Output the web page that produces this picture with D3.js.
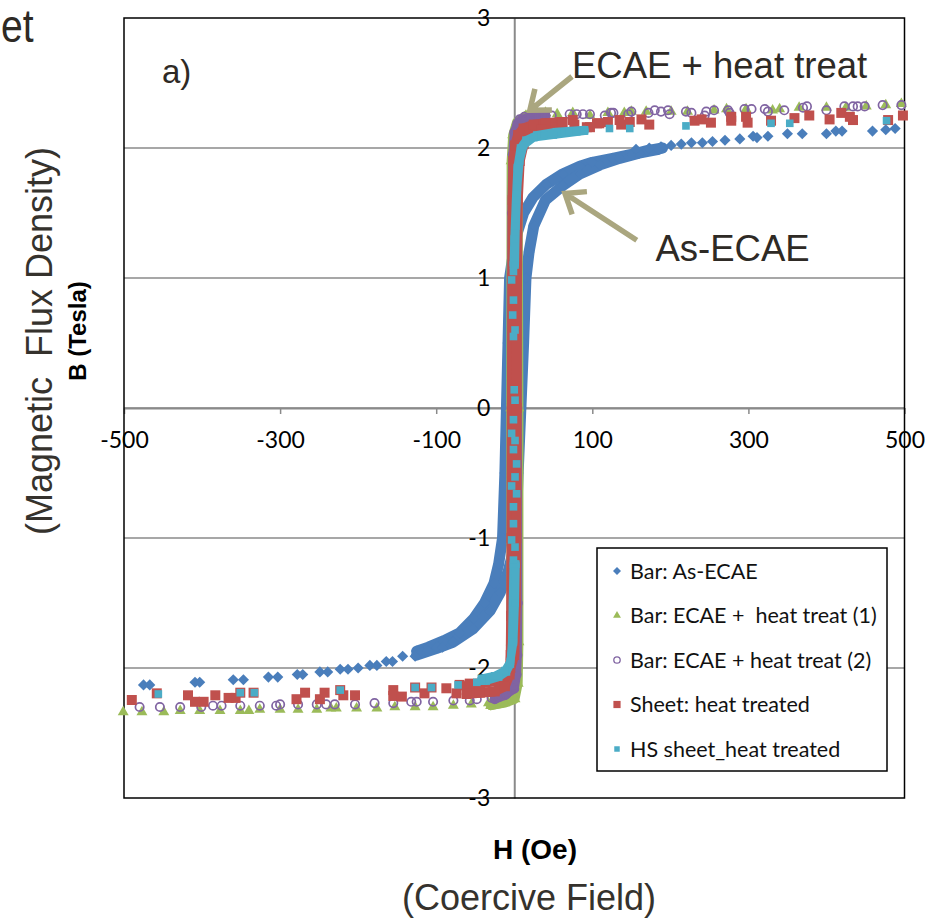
<!DOCTYPE html>
<html>
<head>
<meta charset="utf-8">
<script src="https://cdn.jsdelivr.net/npm/d3@7"></script>
<style>
  body { margin: 0; background: #fff; }
  svg { display: block; }
</style>
</head>
<body>
<div id="chart"></div>
<script>
/* Values: [H (Oe), B (Tesla)] */

// Bar: As-ECAE (blue diamonds)
const asEcaeDesc = [[190,2.0],[170,1.98],[150,1.95],[126,1.92],[100,1.89],[84,1.86],[62,1.8],[41,1.72],[24,1.62],[12,1.5],[4,1.35],[-1,1.2],[-6,1.0],[-8,0.5],[-10,0],[-12,-0.5],[-15,-1.0],[-20,-1.2],[-26,-1.35],[-38,-1.5],[-52,-1.62],[-70,-1.73],[-90,-1.79],[-110,-1.84],[-125,-1.87]];
const asEcaeAsc = [[-125,-1.9],[-100,-1.85],[-78,-1.8],[-53,-1.7],[-31,-1.56],[-18,-1.42],[-8,-1.26],[-2,-1.12],[2,-1.0],[5,-0.5],[8.5,0],[12,0.5],[15,1.0],[19,1.2],[25,1.4],[40,1.6],[62,1.71],[84,1.8],[110,1.87],[135,1.92],[160,1.96],[185,1.99]];
const asEcaePts = [[156,1.99],[173,2.0],[188,2.01],[201,2.02],[214,2.03],[227,2.04],[241,2.04],[254,2.05],[270,2.06],[289,2.07],[306,2.09],[311,2.08],[325,2.09],[350,2.11],[369,2.11],[400,2.11],[412,2.13],[420,2.13],[459,2.13],[476,2.14],[488,2.15],
  [-475,-2.13],[-467,-2.13],[-409,-2.11],[-403,-2.11],[-360,-2.09],[-347,-2.09],[-315,-2.07],[-303,-2.07],[-278,-2.05],[-271,-2.05],[-249,-2.03],[-239,-2.03],[-223,-2.01],[-213,-2.01],[-200,-2.0],[-185,-1.98],[-176,-1.98],[-164,-1.95],[-156,-1.95],[-143,-1.91],[-127,-1.91],[-118,-1.88],[-111,-1.87],[-99,-1.84],[-92,-1.84],[-78,-1.8]];

// Bar: ECAE + heat treat (1) (green triangles)
const ecae1Desc = [[40,2.27],[15,2.25],[3,2.2],[-2,2.1],[-4,1.9],[-4.5,0],[-4,-1.8],[-2,-2.1],[-6,-2.24],[-15,-2.27],[-30,-2.29]];
const ecae1Asc = [[-30,-2.29],[-12,-2.27],[1,-2.24],[5,-2.12],[6,-1.8],[6,0],[5,1.6],[4,2.0],[8,2.18],[20,2.25],[40,2.27]];
const ecae1Pts = [[30,2.25],[55,2.26],[75,2.27],[97,2.25],[120,2.27],[141,2.27],[150,2.28],[169,2.28],[201,2.28],[222,2.28],[256,2.29],[272,2.3],[297,2.3],[331,2.29],[340,2.3],[365,2.31],[400,2.31],[425,2.31],[451,2.32],[476,2.33],[496,2.34],
  [-501,-2.34],[-477,-2.34],[-449,-2.34],[-428,-2.33],[-403,-2.33],[-377,-2.33],[-351,-2.33],[-340,-2.33],[-326,-2.32],[-300,-2.32],[-277,-2.32],[-253,-2.32],[-235,-2.31],[-228,-2.31],[-202,-2.31],[-176,-2.31],[-153,-2.3],[-127,-2.3],[-104,-2.3],[-78,-2.29],[-55,-2.28],[-33,-2.27],[-14,-2.26]];

// Bar: ECAE + heat treat (2) (purple open circles)
const ecae2Desc = [[40,2.25],[20,2.24],[10,2.22],[4,2.19],[0,2.12],[-2,1.95],[-3,1.5],[-3.5,0],[-3,-1.5],[-2,-1.95],[-5,-2.15],[-12,-2.21],[-25,-2.24]];
const ecae2Asc = [[-25,-2.22],[-10,-2.2],[0,-2.16],[3,-2.05],[4,-1.9],[4.5,-1.5],[4,0],[3.5,1.5],[4,1.95],[8,2.12],[18,2.2],[40,2.24]];
const ecae2Pts = [[7,2.22],[13,2.24],[22,2.24],[37,2.25],[48,2.25],[71,2.26],[80,2.26],[88,2.26],[97,2.26],[116,2.25],[124,2.27],[127,2.27],[146,2.26],[150,2.28],[172,2.27],[180,2.29],[188,2.28],[197,2.29],[199,2.26],[220,2.28],[227,2.27],[244,2.25],[246,2.28],[256,2.29],[274,2.29],[276,2.27],[295,2.3],[304,2.3],[321,2.3],[325,2.28],[346,2.29],[370,2.31],[375,2.32],[400,2.29],[423,2.32],[434,2.32],[440,2.32],[449,2.32],[472,2.33],[496,2.33],
  [-480,-2.3],[-454,-2.3],[-428,-2.3],[-401,-2.3],[-386,-2.29],[-375,-2.29],[-351,-2.29],[-326,-2.29],[-305,-2.29],[-300,-2.28],[-277,-2.28],[-253,-2.28],[-241,-2.28],[-230,-2.28],[-204,-2.28],[-179,-2.27],[-155,-2.27],[-132,-2.26],[-125,-2.26],[-104,-2.26],[-78,-2.25],[-57,-2.25],[-48,-2.24],[-29,-2.23],[-19,-2.22]];

// Sheet: heat treated (red squares)
const sheetDesc = [[60,2.2],[40,2.19],[25,2.18],[12,2.15],[5,2.1],[1,2.02],[-1,1.9],[-2,1.6],[-2.5,1.0],[-3,0],[-3.5,-1.0],[-4,-1.6],[-4.5,-1.9],[-6,-2.05],[-12,-2.14],[-25,-2.18],[-44,-2.19],[-61,-2.2]];
const sheetAsc = [[-61,-2.14],[-44,-2.12],[-25,-2.1],[-12,-2.06],[-5,-2.0],[0,-1.9],[2,-1.5],[2.5,-1.0],[3,0],[3.5,1.0],[4.5,1.6],[7,1.9],[12,2.03],[20,2.1],[35,2.14],[60,2.17]];
const sheetPts = [[62,2.2],[75,2.215],[77,2.18],[93,2.16],[97,2.16],[106,2.19],[109,2.19],[120,2.2],[135,2.215],[137,2.18],[148,2.2],[163,2.22],[173,2.18],[231,2.21],[240,2.22],[252,2.195],[278,2.24],[278,2.21],[297,2.24],[299,2.195],[329,2.21],[359,2.23],[378,2.25],[404,2.22],[419,2.27],[430,2.24],[434,2.215],[479,2.215],[498,2.25],
  [-490,-2.246],[-458,-2.195],[-418,-2.21],[-409,-2.26],[-398,-2.26],[-383,-2.21],[-366,-2.23],[-357,-2.23],[-351,-2.19],[-334,-2.19],[-279,-2.24],[-268,-2.19],[-249,-2.24],[-243,-2.19],[-223,-2.17],[-219,-2.21],[-204,-2.21],[-155,-2.17],[-155,-2.215],[-144,-2.22],[-127,-2.15],[-115,-2.195],[-106,-2.15],[-87,-2.156],[-74,-2.195],[-70,-2.13],[-57,-2.12]];

// HS sheet_heat treated (cyan squares)
const hsTopDesc = [[90,2.14],[54,2.125],[29,2.1],[15,2.06],[8,2.0],[4,1.85],[2,1.6],[0,1.3],[-1,1.1]];
const hsTopAsc = [[1,1.1],[2,1.4],[4,1.7],[7,1.9],[12,2.02],[25,2.08],[50,2.1],[90,2.13]];
const hsLowDesc = [[-1,-1.2],[-2,-1.5],[-3,-1.8],[-5,-1.97],[-10,-2.03],[-20,-2.07],[-36,-2.1],[-42,-2.1]];
const hsLowAsc = [[-42,-2.08],[-25,-2.06],[-12,-2.02],[-5,-1.95],[-1,-1.8],[1,-1.5],[2,-1.2]];
const hsSheetPts = [[48,2.11],[71,2.125],[80,2.125],[122,2.15],[148,2.15],[220,2.17],[329,2.19],[353,2.19],[477,2.21],
  [-1,1.05],[-3.4,0.985],[-1,0.83],[-2,0.715],[1,0.6],[-1,0.55],[0,0.14],[1,0.06],[-1,-0.09],[-3.4,-0.195],[1,-0.25],[-1,-0.32],[3,-0.43],[1,-0.53],[-3.4,-0.6],[3,-0.66],[-1,-0.76],[-1,-0.89],[-3.4,-1.015],[1,-1.07],[-1,-1.17],
  [-456,-2.2],[-351,-2.19],[-333,-2.19],[-223,-2.17],[-127,-2.15],[-106,-2.15],[-72,-2.13],[-48,-2.11]];

// legend / axes
const seriesNames = ["Bar: As-ECAE", "Bar: ECAE +  heat treat (1)", "Bar: ECAE + heat treat (2)", "Sheet: heat treated", "HS sheet_heat treated"];
const seriesColors = ["#4a7ebb", "#9bbb59", "#8064a2", "#c0504d", "#4bacc6"];
const seriesShapes = ["diamond", "triangle", "circle", "square", "smallSquare"];
const xTicks = [-500, -300, -100, 100, 300, 500];
const xTickLabels = ["-500", "-300", "-100", "100", "300", "500"];
const yTicks = [-3, -2, -1, 0, 1, 2, 3];
const yTickLabels = ["-3", "-2", "-1", "0", "1", "2", "3"];

// annotations in data coordinates
const noteTexts = ["ECAE + heat treat", "As-ECAE"];
const noteAt = [[74, 2.54], [181, 1.13]];
const arrowFrom = [[74, 2.55], [157, 1.29]];
const arrowTo = [[20, 2.29], [65, 1.65]];

const width = 936, height = 918;
const plot = { left: 124, right: 904.5, top: 18, bottom: 798 };
const arial = "'Liberation Sans', Arial, sans-serif";
const calibri = "Lato, 'Open Sans', sans-serif";

const svg = d3
  .select("#chart")
  .append("svg")
  .attr("width", width)
  .attr("height", height);

const xScale = d3.scaleLinear([-500, 500], [plot.left, plot.right]);
const yScale = d3.scaleLinear([-3, 3], [plot.bottom, plot.top]);

/* Gridlines */
svg
  .append("g")
  .selectAll("line")
  .data(yTicks.filter((d) => Math.abs(d) < 3))
  .join("line")
  .attr("x1", plot.left)
  .attr("x2", plot.right)
  .attr("y1", (d) => yScale(d))
  .attr("y2", (d) => yScale(d))
  .attr("stroke", "#8a8a8a")
  .attr("stroke-width", 1.5);

/* Axes through the origin */
const xAxis = d3
  .axisBottom(xScale)
  .tickValues(xTicks)
  .tickFormat((d, i) => xTickLabels[i])
  .tickSizeInner(6)
  .tickSizeOuter(0)
  .tickPadding(18);

const xGroup = svg
  .append("g")
  .attr("transform", `translate(0, ${yScale(0)})`)
  .call(xAxis);

const yAxis = d3
  .axisLeft(yScale)
  .tickValues(yTicks)
  .tickFormat((d, i) => yTickLabels[i])
  .tickSize(0)
  .tickPadding(24);

const yGroup = svg
  .append("g")
  .attr("transform", `translate(${xScale(0)}, 0)`)
  .call(yAxis);

[xGroup, yGroup].forEach((g) => {
  g.select(".domain").attr("stroke", "#8a8a8a").attr("stroke-width", 2);
  g.selectAll(".tick line").attr("stroke", "#8a8a8a").attr("stroke-width", 1.5);
  g.selectAll("text")
    .attr("fill", "#000")
    .style("font-family", calibri)
    .style("font-size", "23px");
});

/* Plot border */
svg
  .append("rect")
  .attr("x", plot.left)
  .attr("y", plot.top)
  .attr("width", plot.right - plot.left)
  .attr("height", plot.bottom - plot.top)
  .attr("fill", "none")
  .attr("stroke", "#000")
  .attr("stroke-width", 1.5);

/* Markers */
const markerD = {
  diamond: d3.symbol(d3.symbolSquare, 62)(),
  triangle: d3.symbol(d3.symbolTriangle, 52)(),
  square: d3.symbol(d3.symbolSquare, 100)(),
  smallSquare: d3.symbol(d3.symbolSquare, 58)(),
};

const drawMarkers = (g, pts, shape, color, scale = 1) => {
  if (shape === "circle") {
    g.append("g")
      .selectAll("circle")
      .data(pts)
      .join("circle")
      .attr("cx", (d) => xScale(d[0]))
      .attr("cy", (d) => yScale(d[1]))
      .attr("r", 4.2 * scale)
      .attr("fill", "none")
      .attr("stroke", color)
      .attr("stroke-width", 1.7);
    return;
  }
  g.append("g")
    .selectAll("path")
    .data(pts)
    .join("path")
    .attr("d", markerD[shape])
    .attr(
      "transform",
      (d) =>
        `translate(${xScale(d[0])}, ${yScale(d[1])}) scale(${scale})` +
        (shape === "diamond" ? " rotate(45)" : "")
    )
    .attr("fill", color);
};

const line = d3
  .line()
  .x((d) => xScale(d[0]))
  .y((d) => yScale(d[1]));

const drawBand = (g, pts, color, w) => {
  g.append("path")
    .datum(pts)
    .attr("d", line)
    .attr("fill", "none")
    .attr("stroke", color)
    .attr("stroke-width", w)
    .attr("stroke-linejoin", "round")
    .attr("stroke-linecap", "round");
};

const series = [
  { bands: [asEcaeDesc, asEcaeAsc], pts: asEcaePts, w: 11 },
  { bands: [ecae1Desc, ecae1Asc], pts: ecae1Pts, w: 9 },
  { bands: [ecae2Desc, ecae2Asc], pts: ecae2Pts, w: 9 },
  { bands: [sheetDesc, sheetAsc], pts: sheetPts, w: 10 },
  { bands: [hsTopDesc, hsTopAsc, hsLowDesc, hsLowAsc], pts: hsSheetPts, w: 8 },
];

const dataLayer = svg.append("g");
series.forEach((s, i) => {
  const g = dataLayer.append("g");
  s.bands.forEach((b) => drawBand(g, b, seriesColors[i], s.w));
  s.bands.forEach((b) => drawMarkers(g, b, seriesShapes[i], seriesColors[i]));
  drawMarkers(g, s.pts, seriesShapes[i], seriesColors[i]);
});

/* Arrows and callout texts */
const arrowColor = "#aaa67f";
arrowFrom.forEach((f, i) => {
  const x0 = xScale(f[0]), y0 = yScale(f[1]);
  const x1 = xScale(arrowTo[i][0]), y1 = yScale(arrowTo[i][1]);
  const ang = Math.atan2(y0 - y1, x0 - x1);
  const arm = 22, spread = (38 * Math.PI) / 180;
  const a1 = [x1 + arm * Math.cos(ang - spread), y1 + arm * Math.sin(ang - spread)];
  const a2 = [x1 + arm * Math.cos(ang + spread), y1 + arm * Math.sin(ang + spread)];
  svg
    .append("path")
    .attr("d", `M${x0},${y0}L${x1},${y1}M${a1[0]},${a1[1]}L${x1},${y1}L${a2[0]},${a2[1]}`)
    .attr("fill", "none")
    .attr("stroke", arrowColor)
    .attr("stroke-width", 5.5)
    .attr("stroke-linejoin", "miter");
});

svg
  .append("g")
  .selectAll("text")
  .data(noteTexts)
  .join("text")
  .attr("x", (d, i) => xScale(noteAt[i][0]))
  .attr("y", (d, i) => yScale(noteAt[i][1]))
  .text((d) => d)
  .attr("fill", "#2e2a25")
  .style("font-family", arial)
  .style("font-size", "36.5px");

svg
  .append("text")
  .attr("x", 162)
  .attr("y", 83)
  .text("a)")
  .attr("fill", "#2e2a25")
  .style("font-family", arial)
  .style("font-size", "33px");

/* Slide title fragment at top-left */
svg
  .append("text")
  .attr("transform", "translate(1, 42) scale(0.85, 1)")
  .text("et")
  .attr("fill", "#2e2a25")
  .style("font-family", arial)
  .style("font-size", "46px");

/* Axis titles */
svg
  .append("text")
  .attr("transform", "translate(52, 341) rotate(-90)")
  .attr("text-anchor", "middle")
  .text("(Magnetic  Flux Density)")
  .attr("fill", "#35322d")
  .style("font-family", arial)
  .style("font-size", "36px")
  .style("white-space", "pre");

svg
  .append("text")
  .attr("transform", "translate(86, 331) rotate(-90)")
  .attr("text-anchor", "middle")
  .text("B (Tesla)")
  .attr("fill", "#000")
  .style("font-family", arial)
  .style("font-weight", "bold")
  .style("font-size", "24px");

svg
  .append("text")
  .attr("x", 535)
  .attr("y", 859)
  .attr("text-anchor", "middle")
  .text("H (Oe)")
  .attr("fill", "#000")
  .style("font-family", arial)
  .style("font-weight", "bold")
  .style("font-size", "28px");

svg
  .append("text")
  .attr("x", 529)
  .attr("y", 910)
  .attr("text-anchor", "middle")
  .text("(Coercive Field)")
  .attr("fill", "#35322d")
  .style("font-family", arial)
  .style("font-size", "36px");

/* Legend */
const legend = svg.append("g").attr("transform", "translate(597, 548)");

legend
  .append("rect")
  .attr("width", 290)
  .attr("height", 223)
  .attr("fill", "#fff")
  .attr("stroke", "#000")
  .attr("stroke-width", 1.5);

const item = legend
  .selectAll("g.item")
  .data(seriesNames)
  .join("g")
  .attr("class", "item")
  .attr("transform", (d, i) => `translate(0, ${23 + i * 44.5})`);

item.each(function (d, i) {
  const g = d3.select(this);
  const s = seriesShapes[i];
  if (s === "circle") {
    g.append("circle").attr("cx", 20).attr("r", 3.2).attr("fill", "none").attr("stroke", seriesColors[i]).attr("stroke-width", 1.3);
  } else {
    g.append("path")
      .attr("d", markerD[s])
      .attr("transform", "translate(20, 0) scale(0.72)" + (s === "diamond" ? " rotate(45)" : ""))
      .attr("fill", seriesColors[i]);
  }
});

item
  .append("text")
  .attr("x", 33)
  .attr("dy", "0.35em")
  .text((d) => d)
  .attr("fill", "#111")
  .style("font-family", calibri)
  .style("font-size", "21.5px")
  .style("white-space", "pre");
</script>
</body>
</html>
